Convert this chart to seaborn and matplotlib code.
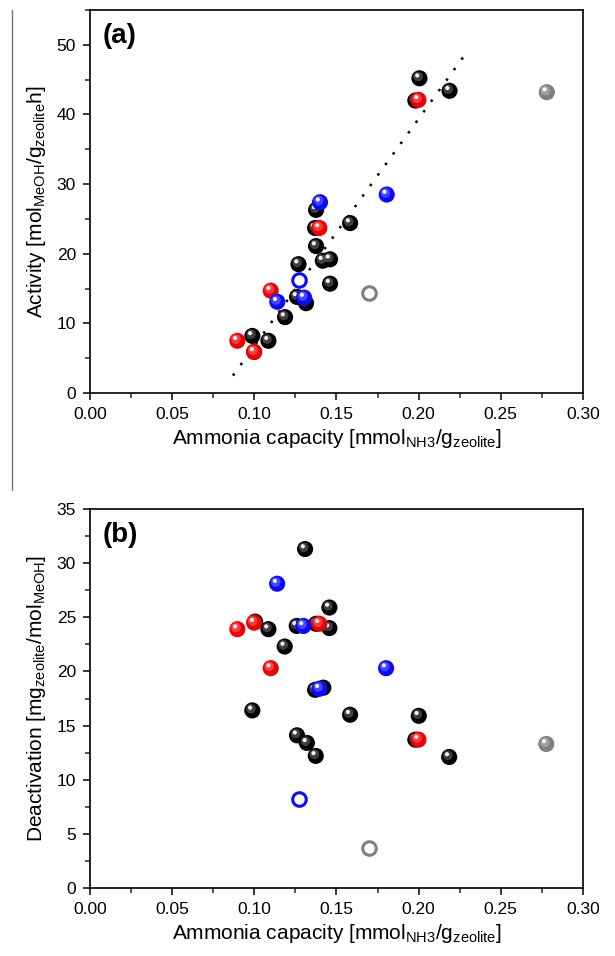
import numpy as np
import pandas as pd
import matplotlib
matplotlib.use("Agg")
import matplotlib.pyplot as plt
import matplotlib.transforms as mtransforms
from matplotlib.lines import Line2D
from matplotlib.ticker import MultipleLocator
import seaborn as sns

# ---- panel (a): activity vs ammonia capacity ----
a_black_x = [0.2005, 0.2188, 0.198, 0.1376, 0.137, 0.1583, 0.1376, 0.1417, 0.1461,
             0.1269, 0.1461, 0.126, 0.1315, 0.1187, 0.0988, 0.1086, 0.0999]
a_black_y = [45.2, 43.4, 42.0, 26.3, 23.7, 24.4, 21.1, 19.0, 19.2,
             18.5, 15.7, 13.8, 12.9, 10.9, 8.2, 7.5, 5.9]
a_red_x = [0.1999, 0.1396, 0.110, 0.0897, 0.0999]
a_red_y = [42.1, 23.7, 14.7, 7.5, 5.9]
a_blue_x = [0.140, 0.1806, 0.114, 0.1303]
a_blue_y = [27.4, 28.5, 13.1, 13.7]
a_gray_x = [0.278]
a_gray_y = [43.2]
a_blue_open_x = [0.1269]
a_blue_open_y = [16.3]
a_gray_open_x = [0.1699]
a_gray_open_y = [14.4]
fit_x = [0.087, 0.227]
fit_y = [2.5, 48.2]

# ---- panel (b): deactivation vs ammonia capacity ----
b_black_x = [0.1309, 0.1457, 0.1457, 0.1376, 0.1258, 0.1086, 0.1005, 0.1185, 0.142,
             0.137, 0.0988, 0.1583, 0.2001, 0.198, 0.126, 0.132, 0.1374, 0.2186]
b_black_y = [31.3, 25.9, 24.0, 24.4, 24.2, 23.9, 24.6, 22.3, 18.5,
             18.3, 16.4, 16.0, 15.9, 13.7, 14.1, 13.4, 12.2, 12.1]
b_red_x = [0.0897, 0.0999, 0.1396, 0.110, 0.1999]
b_red_y = [23.9, 24.5, 24.4, 20.3, 13.7]
b_blue_x = [0.1139, 0.1299, 0.1802, 0.1396]
b_blue_y = [28.1, 24.2, 20.3, 18.4]
b_gray_x = [0.2777]
b_gray_y = [13.3]
b_blue_open_x = [0.1269]
b_blue_open_y = [8.2]
b_gray_open_x = [0.1699]
b_gray_open_y = [3.7]

x_label = "Ammonia capacity [mmol$_{NH3}$/g$_{zeolite}$]"
a_ylabel = "Activity [mol$_{MeOH}$/g$_{zeolite}$h]"
b_ylabel = "Deactivation [mg$_{zeolite}$/mol$_{MeOH}$]"

sns.set_theme(style="ticks")
plt.rcParams["font.family"] = ["Liberation Sans", "DejaVu Sans"]
plt.rcParams["mathtext.default"] = "regular"
plt.rcParams["text.color"] = "black"
plt.rcParams["axes.labelcolor"] = "black"

colors = {"black": "#000000", "red": "#f00000", "blue": "#0a0aff", "gray": "#7f7f7f"}

fig = plt.figure(figsize=(6.15, 9.56), dpi=100)
ax_a = fig.add_axes([0.1463, 0.5889, 0.8016, 0.4006])
ax_b = fig.add_axes([0.1463, 0.0711, 0.8016, 0.3965])


def lighten(c, f):
    rgb = np.array(matplotlib.colors.to_rgb(c))
    return tuple(rgb + (1 - rgb) * f)


def balls(ax, xs, ys, c):
    df = pd.DataFrame({"x": xs, "y": ys})
    # body of the shaded sphere
    sns.scatterplot(data=df, x="x", y="y", ax=ax, color=c, s=135,
                    edgecolor="none", linewidth=0, legend=False, zorder=3)
    # soft glow + specular spot, shifted up-left
    glow = mtransforms.offset_copy(ax.transData, fig=fig, x=-1.0, y=1.2, units="points")
    spot = mtransforms.offset_copy(ax.transData, fig=fig, x=-1.6, y=2.0, units="points")
    ax.scatter(xs, ys, s=48, color=lighten(c, 0.45), alpha=0.55,
               edgecolor="none", transform=glow, zorder=3)
    ax.scatter(xs, ys, s=9, color="white", alpha=0.95,
               edgecolor="none", transform=spot, zorder=3)


def rings(ax, xs, ys, c):
    sns.scatterplot(x=xs, y=ys, ax=ax, s=95, facecolor="white",
                    edgecolor=c, linewidth=2.2, legend=False, zorder=3)


def style(ax, ymax, ymajor, yminor, label, ylabel):
    ax.set_xlim(0, 0.30)
    ax.set_ylim(0, ymax)
    ax.xaxis.set_major_locator(MultipleLocator(0.05))
    ax.xaxis.set_minor_locator(MultipleLocator(0.025))
    ax.yaxis.set_major_locator(MultipleLocator(ymajor))
    ax.yaxis.set_minor_locator(MultipleLocator(yminor))
    ax.set_xticklabels([f"{v:.2f}" for v in ax.get_xticks()])
    ax.tick_params(which="major", direction="out", length=5, width=1.1,
                   labelsize=12.5, colors="black", pad=5,
                   top=False, right=False)
    ax.tick_params(which="minor", direction="out", length=3.5, width=1.1,
                   top=False, right=False)
    for sp in ax.spines.values():
        sp.set_visible(True)
        sp.set_linewidth(1.2)
        sp.set_color("black")
    ax.set_xlabel(x_label, fontsize=15, labelpad=4, color="black")
    ax.set_ylabel(ylabel, fontsize=15, labelpad=6, color="black")
    ax.text(0.026, 0.965, label, transform=ax.transAxes, fontsize=20,
            fontweight="bold", ha="left", va="top", color="black")


# panel (a)
ax_a.plot(fit_x, fit_y, color="black", linestyle=(0, (1, 4.2)), linewidth=1.8, zorder=2)
balls(ax_a, a_black_x, a_black_y, colors["black"])
balls(ax_a, a_gray_x, a_gray_y, colors["gray"])
balls(ax_a, a_red_x, a_red_y, colors["red"])
balls(ax_a, a_blue_x, a_blue_y, colors["blue"])
rings(ax_a, a_blue_open_x, a_blue_open_y, colors["blue"])
rings(ax_a, a_gray_open_x, a_gray_open_y, colors["gray"])
style(ax_a, 55, 10, 5, "(a)", a_ylabel)

# panel (b)
balls(ax_b, b_black_x, b_black_y, colors["black"])
balls(ax_b, b_gray_x, b_gray_y, colors["gray"])
balls(ax_b, b_red_x, b_red_y, colors["red"])
balls(ax_b, b_blue_x, b_blue_y, colors["blue"])
rings(ax_b, b_blue_open_x, b_blue_open_y, colors["blue"])
rings(ax_b, b_gray_open_x, b_gray_open_y, colors["gray"])
style(ax_b, 35, 5, 2.5, "(b)", b_ylabel)

# thin frame line left of panel (a), as in the source figure
fig.add_artist(Line2D([12 / 615, 12 / 615], [1 - 10 / 956, 1 - 490 / 956],
                      color="#777777", linewidth=1.0))

fig.savefig("out.png", dpi=100)
